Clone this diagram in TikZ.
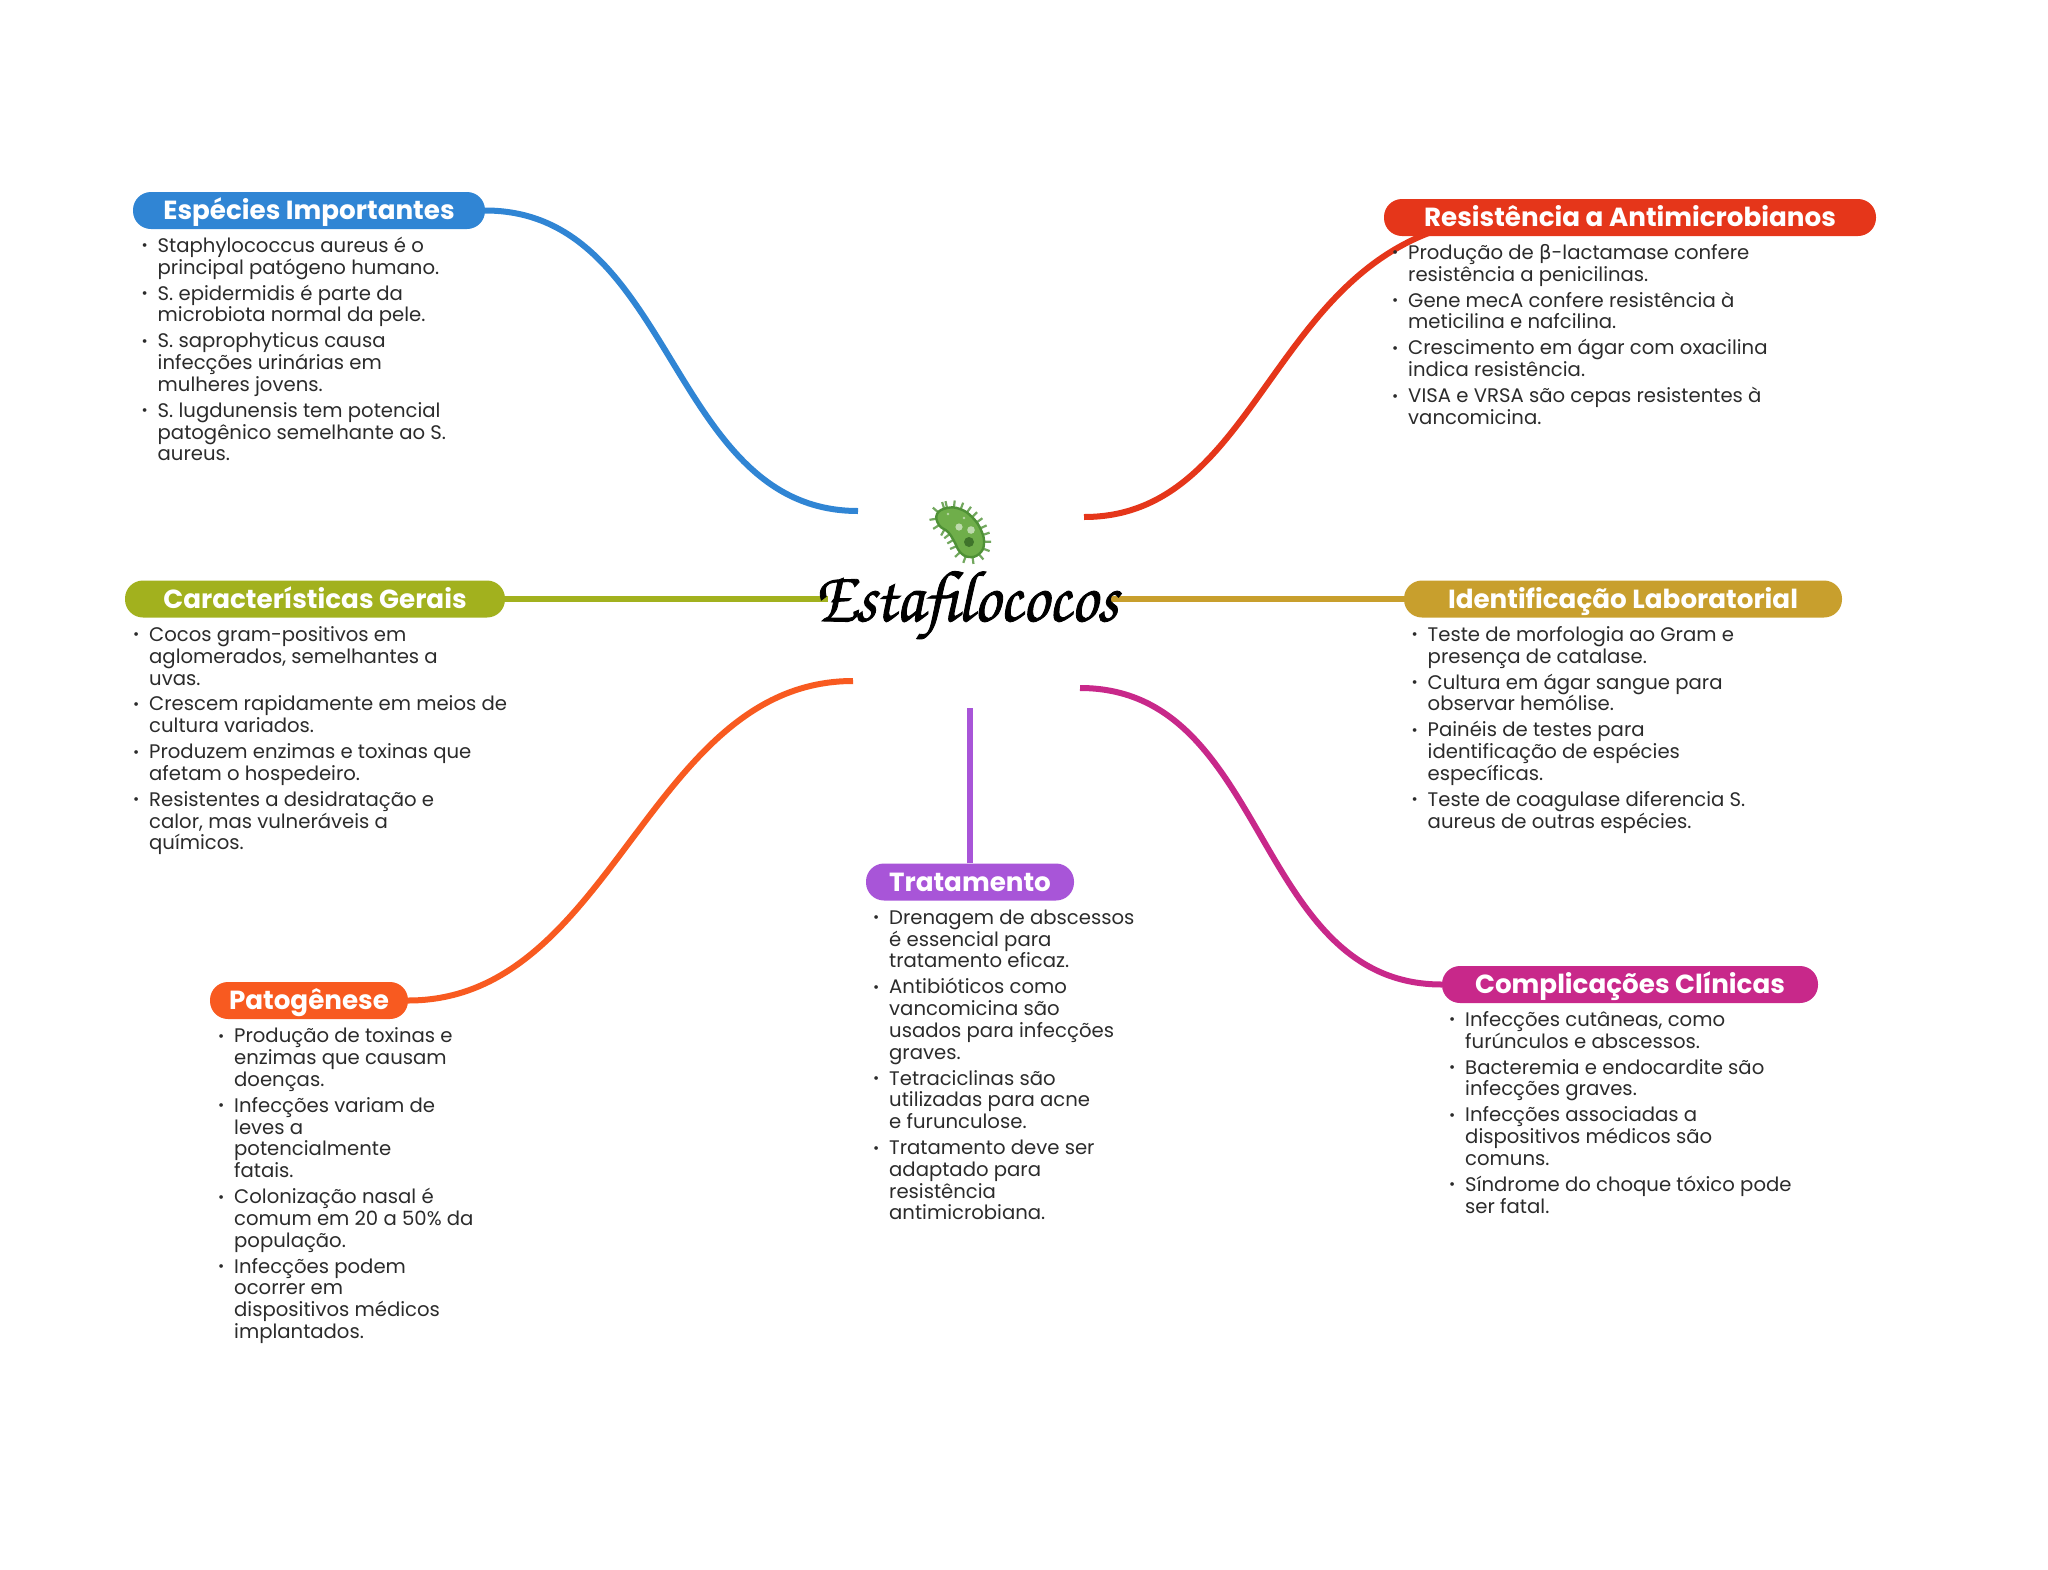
\documentclass[tikz,border=0pt]{standalone}
\usepackage{fontspec}
\setmainfont{Poppins}
\newfontfamily\greekf{DejaVu Sans}
\newfontfamily\scriptf[FakeBold=1.2,FakeStretch=0.9]{TeX Gyre Chorus}
\usetikzlibrary{backgrounds,decorations.markings}
\definecolor{cblue}{HTML}{3085D4}
\definecolor{cred}{HTML}{E5361A}
\definecolor{cgreen}{HTML}{A2B11E}
\definecolor{cgold}{HTML}{C89F2D}
\definecolor{cpurple}{HTML}{A855D8}
\definecolor{corange}{HTML}{F85A20}
\definecolor{cmagenta}{HTML}{C8288A}
\definecolor{txt}{HTML}{2B2B2B}
\definecolor{mgreen}{HTML}{6FAE4A}
\definecolor{dgreen}{HTML}{4F9136}
\lineskiplimit=-100pt
\newcommand\itm{\rule{0pt}{18pt}\llap{\raisebox{1.5pt}{\fontsize{15}{15}\selectfont •}\hspace{10pt}}}
\tikzset{
 x=1pt,y=-1pt,
 pill/.style={fill=#1,rounded corners=18pt,inner sep=0pt,minimum height=37pt,text=white,
   font=\fontsize{26.2}{30}\selectfont\bfseries,text height=23.6pt,text depth=5pt,anchor=center},
 panel/.style={anchor=north west,inner sep=0pt,align=left,text=txt,font=\fontsize{19.65}{21.8}\selectfont},
 link/.style={draw=#1,line width=6pt},
 spike/.style={draw=dgreen,line width=2.2pt,opacity=.8},
}
\begin{document}
\begin{tikzpicture}
\useasboundingbox (0,0) rectangle (2048,1569);
% hub ends
\coordinate (hA) at (858,511);
\coordinate (hB) at (1084,517);
\coordinate (hC) at (828,599);
\coordinate (hD) at (1111,599);
\coordinate (hE) at (853,681);
\coordinate (hF) at (1080,688);
\coordinate (hG) at (970,708);
\coordinate (redin) at (1520,217);
% pills
\node[pill=cblue,minimum width=352pt] (esp) at (309,210.5) {Espécies Importantes};
\node[pill=cred,minimum width=492pt] (res) at (1630,217.5) {Resistência a Antimicrobianos};
\node[pill=cgreen,minimum width=380pt] (car) at (315,599) {Características Gerais};
\node[pill=cgold,minimum width=438pt] (ide) at (1623,599) {Identificação Laboratorial};
\node[pill=cpurple,minimum width=208pt] (tra) at (970,882) {Tratamento};
\node[pill=corange,minimum width=198pt] (pat) at (309,1000.5) {Patogênese};
\node[pill=cmagenta,minimum width=376pt] (com) at (1630,984.5) {Complicações Clínicas};
% connectors
\begin{pgfonlayer}{background}
\draw[link=cblue] (esp.east) .. controls +(190,0) and +(-190,0) .. (hA);
\draw[link=cred] (redin) .. controls +(-250,0) and +(190,0) .. (hB);
\draw[link=cgreen] (car.east) -- (hC);
\draw[link=cgold] (ide.west) -- (hD);
\draw[link=corange] (pat.east) .. controls +(205,0) and +(-205,0) .. (hE);
\draw[link=cmagenta] (com.west) .. controls +(-190,0) and +(190,0) .. (hF);
\draw[link=cpurple] (tra.north) -- (hG);
\end{pgfonlayer}
% panels
\node[panel] (p1) at (157.5,234.2) {\itm Staphylococcus aureus é o\\principal patógeno humano.\\[4.1pt]
\itm S. epidermidis é parte da\\microbiota normal da pele.\\[4.1pt]
\itm S. saprophyticus causa\\infecções urinárias em\\mulheres jovens.\\[4.1pt]
\itm S. lugdunensis tem potencial\\patogênico semelhante ao S.\\aureus.};
\node[panel] (p2) at (1408,241.2) {\itm Produção de {\greekf β}-lactamase confere\\resistência a penicilinas.\\[4.1pt]
\itm Gene mecA confere resistência à\\meticilina e nafcilina.\\[4.1pt]
\itm Crescimento em ágar com oxacilina\\indica resistência.\\[4.1pt]
\itm VISA e VRSA são cepas resistentes à\\vancomicina.};
\node[panel] (p3) at (149,623.2) {\itm Cocos gram-positivos em\\aglomerados, semelhantes a\\uvas.\\[4.1pt]
\itm Crescem rapidamente em meios de\\cultura variados.\\[4.1pt]
\itm Produzem enzimas e toxinas que\\afetam o hospedeiro.\\[4.1pt]
\itm Resistentes a desidratação e\\calor, mas vulneráveis a\\químicos.};
\node[panel] (p4) at (1427.5,623.2) {\itm Teste de morfologia ao Gram e\\presença de catalase.\\[4.1pt]
\itm Cultura em ágar sangue para\\observar hemólise.\\[4.1pt]
\itm Painéis de testes para\\identificação de espécies\\específicas.\\[4.1pt]
\itm Teste de coagulase diferencia S.\\aureus de outras espécies.};
\node[panel] (p5) at (889,906) {\itm Drenagem de abscessos\\é essencial para\\tratamento eficaz.\\[4.1pt]
\itm Antibióticos como\\vancomicina são\\usados para infecções\\graves.\\[4.1pt]
\itm Tetraciclinas são\\utilizadas para acne\\e furunculose.\\[4.1pt]
\itm Tratamento deve ser\\adaptado para\\resistência\\antimicrobiana.};
\node[panel] (p6) at (234,1024.5) {\itm Produção de toxinas e\\enzimas que causam\\doenças.\\[4.1pt]
\itm Infecções variam de\\leves a\\potencialmente\\fatais.\\[4.1pt]
\itm Colonização nasal é\\comum em 20 a 50\% da\\população.\\[4.1pt]
\itm Infecções podem\\ocorrer em\\dispositivos médicos\\implantados.};
\node[panel] (p7) at (1465,1008.2) {\itm Infecções cutâneas, como\\furúnculos e abscessos.\\[4.1pt]
\itm Bacteremia e endocardite são\\infecções graves.\\[4.1pt]
\itm Infecções associadas a\\dispositivos médicos são\\comuns.\\[4.1pt]
\itm Síndrome do choque tóxico pode\\ser fatal.};
% central title
\node[anchor=base,inner sep=0pt,font=\scriptf\fontsize{73}{80}\selectfont] (title) at (966,621) {Estafilococos};
% microbe icon
\path[fill=mgreen,draw=dgreen,line width=2.4pt,
 postaction={decorate,decoration={markings,mark=between positions 0 and 1 step 7pt with {\draw[spike] (0,0) -- (0,7pt);}}}]
 plot[smooth cycle,tension=.75] coordinates {(937,514) (947,508) (960,509) (972,517) (981,530) (984,544) (979,554) (969,557) (960,552) (954,541) (948,532) (939,525)};
\fill[white,opacity=.55] (959,527) circle (3.6pt) (971,530) circle (3.8pt);
\fill[white,opacity=.5] (948,514) circle (1.3pt) (964,518) circle (1.3pt);
\fill[dgreen!80!black] (969,542) circle (5pt);
\end{tikzpicture}
\end{document}
